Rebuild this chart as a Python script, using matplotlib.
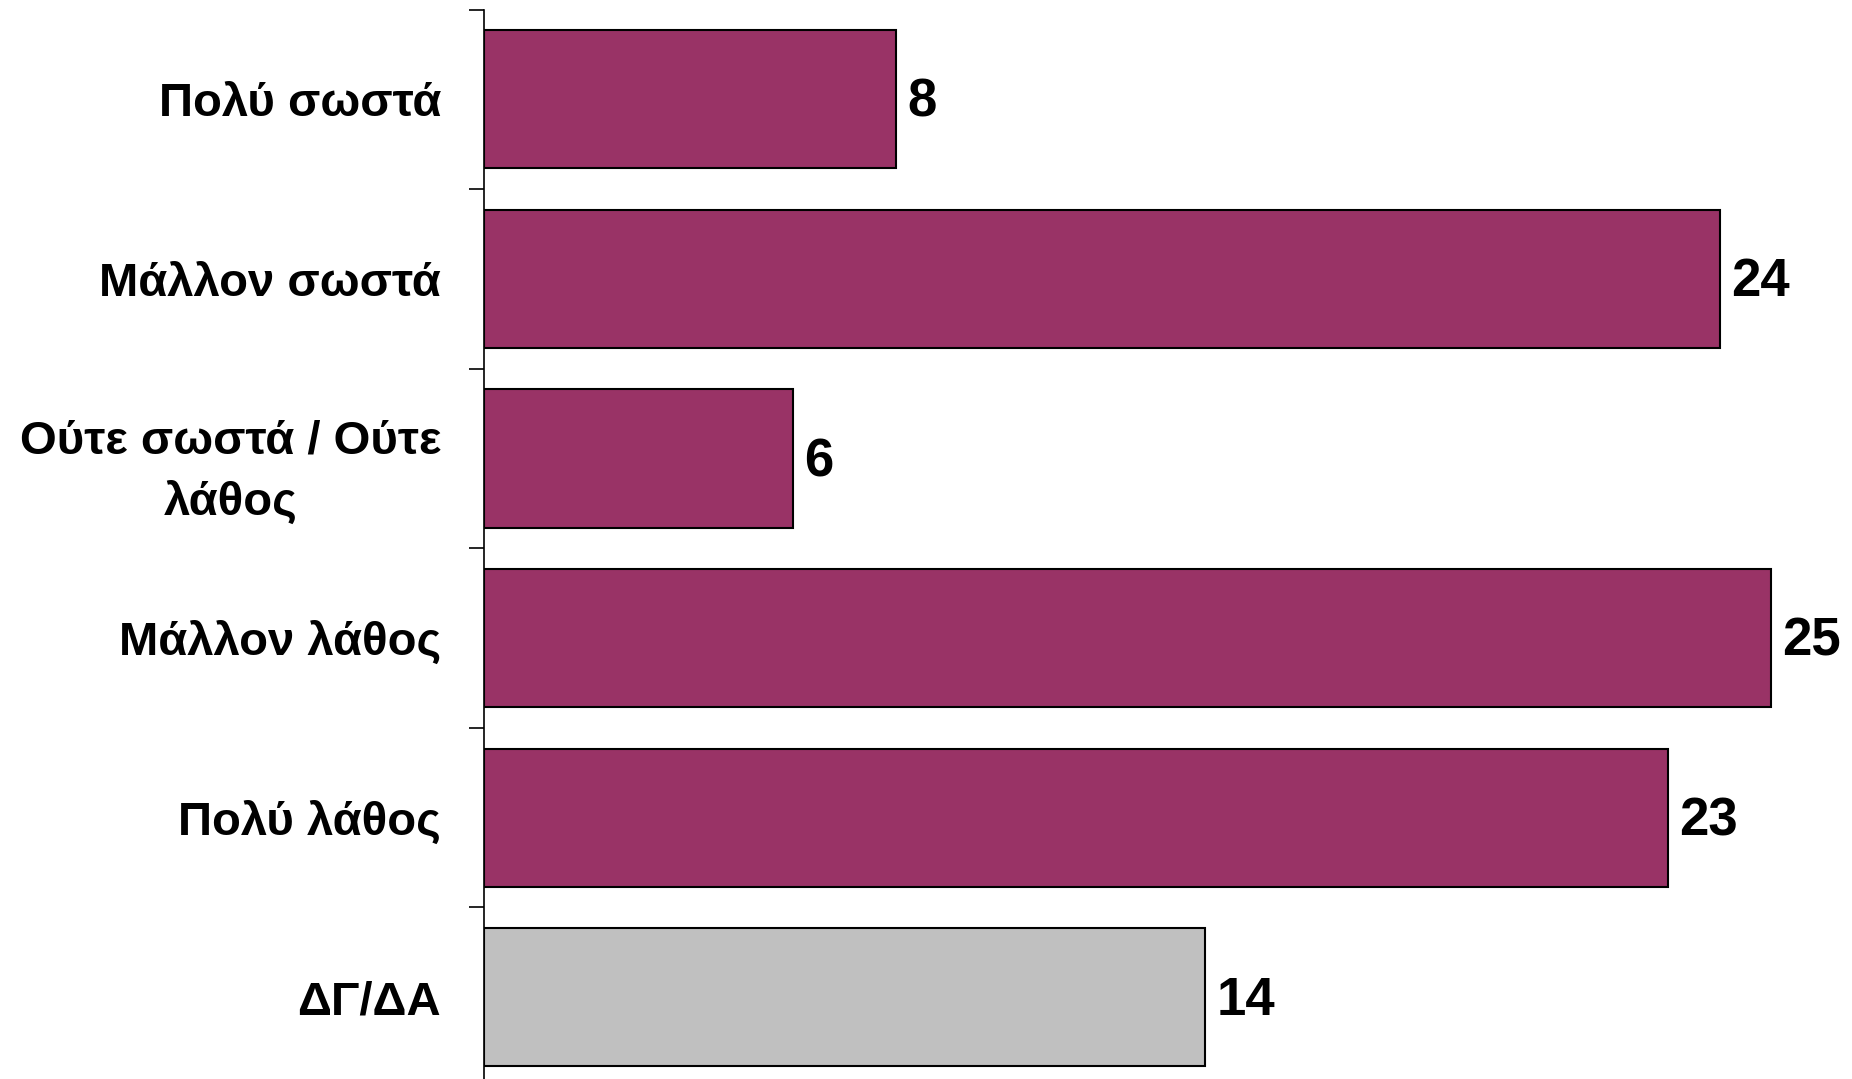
import matplotlib
matplotlib.use('Agg')
import matplotlib.pyplot as plt
import numpy as np

categories = ['Πολύ σωστά', 'Μάλλον σωστά', 'Ούτε σωστά / Ούτε\nλάθος',
              'Μάλλον λάθος', 'Πολύ λάθος', 'ΔΓ/ΔΑ']
values = [8, 24, 6, 25, 23, 14]
colors = ['#993366'] * 5 + ['#c0c0c0']

plt.rcParams['font.family'] = ['Liberation Sans Narrow', 'Liberation Sans', 'DejaVu Sans']
plt.rcParams['font.weight'] = 'bold'

fig = plt.figure(figsize=(18.52, 10.79), dpi=100)
ax = fig.add_axes([484 / 1852, 0.0, 1 - 484 / 1852, 1069.5 / 1079])

y = np.arange(len(categories))
ax.barh(y, values, height=0.77, color=colors, edgecolor='black', linewidth=1.5)

for yi, v in zip(y, values):
    ax.text(v + 0.22, yi + 0.02, str(v), va='center', ha='left', fontsize=38, fontweight='bold')

ax.set_xlim(0, 26.57)
ax.set_ylim(5.455, -0.5)

# ticks sit between the bars, labels are on minor ticks at bar centres
ax.set_yticks(np.arange(-0.5, 5.0, 1.0))
ax.set_yticklabels([])
ax.tick_params(axis='y', direction='out', length=11, width=1.2)
ax.set_yticks(y, minor=True)
ax.set_yticklabels(categories, minor=True, fontsize=34, fontweight='bold')
ax.tick_params(axis='y', which='minor', length=0, pad=31)
for lab in ax.get_yticklabels(minor=True):
    lab.set_multialignment('center')
    lab.set_linespacing(1.5)

ax.set_xticks([])
for s in ['top', 'right', 'bottom']:
    ax.spines[s].set_visible(False)
ax.spines['left'].set_linewidth(1.2)

fig.savefig('out.png', dpi=100)
